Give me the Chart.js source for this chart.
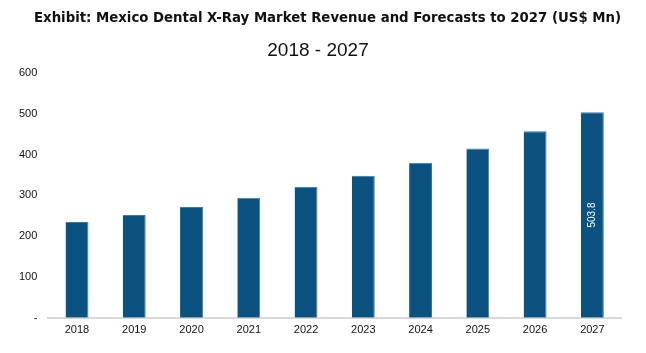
<!DOCTYPE html>
<html>
<head>
<meta charset="utf-8">
<script src="https://cdn.jsdelivr.net/npm/chart.js@4/dist/chart.umd.min.js"></script>
<style>
html,body{margin:0;padding:0;background:#fff;}
#wrap{width:646px;height:353px;position:relative;}
</style>
</head>
<body>
<div id="wrap"><canvas id="c" width="646" height="353"></canvas></div>
<script>
const categories = ["2018","2019","2020","2021","2022","2023","2024","2025","2026","2027"];
const revenue = [234.5, 252, 271.5, 294, 321, 348, 380, 415, 457, 503.8];
const yTicks = [0, 100, 200, 300, 400, 500, 600];
const labelledIndex = 9;
const titleText = 'Exhibit: Mexico Dental X-Ray Market Revenue and Forecasts to 2027 (US$ Mn)';
const subtitleText = '2018 - 2027';

const valueLabel = {
  id: 'valueLabel',
  afterDatasetsDraw(chart) {
    const meta = chart.getDatasetMeta(0);
    const el = meta.data[labelledIndex];
    if (!el) return;
    const ctx = chart.ctx;
    ctx.save();
    ctx.translate(el.x, (el.y + el.base) / 2);
    ctx.rotate(-Math.PI / 2);
    ctx.fillStyle = '#ffffff';
    ctx.font = '10px "Liberation Sans", Arial, sans-serif';
    ctx.textAlign = 'center';
    ctx.textBaseline = 'middle';
    ctx.fillText(String(revenue[labelledIndex]), 0, 0);
    ctx.restore();
  }
};

const headings = {
  id: 'headings',
  afterDraw(chart) {
    const ctx = chart.ctx;
    ctx.save();
    ctx.fillStyle = '#111';
    ctx.textAlign = 'center';
    ctx.textBaseline = 'middle';
    ctx.font = 'bold 13.3px "DejaVu Sans", Verdana, sans-serif';
    ctx.fillText(titleText, 327.5, 19);
    ctx.font = '19px "Liberation Sans", Arial, sans-serif';
    ctx.fillText(subtitleText, 318, 51);
    ctx.restore();
  }
};

new Chart(document.getElementById('c'), {
  type: 'bar',
  data: {
    labels: categories,
    datasets: [{
      data: revenue,
      backgroundColor: '#0B5281',
      borderColor: '#3C79A3',
      borderWidth: {top: 1, right: 1, left: 0, bottom: 0},
      barPercentage: 0.4,
      categoryPercentage: 1.0
    }]
  },
  options: {
    responsive: false,
    animation: false,
    devicePixelRatio: 1,
    layout: {padding: {left: 8, right: 25, top: 73, bottom: 10}},
    plugins: {
      legend: {display: false},
      tooltip: {enabled: false},
      title: {display: false},
      subtitle: {display: false}
    },
    scales: {
      x: {
        grid: {display: false, drawTicks: false},
        border: {display: true, color: '#d9d9d9', width: 2},
        ticks: {
          color: '#111',
          padding: 6,
          font: {family: '"Liberation Sans", Arial, sans-serif', size: 11}
        }
      },
      y: {
        min: 0, max: 600,
        afterBuildTicks(axis) { axis.ticks = yTicks.map(v => ({value: v})); },
        grid: {display: false, drawTicks: false},
        border: {display: false},
        ticks: {
          color: '#111',
          padding: 11,
          font: {family: '"Liberation Sans", Arial, sans-serif', size: 11},
          callback: v => v === 0 ? '-' : String(v)
        }
      }
    }
  },
  plugins: [valueLabel, headings]
});
</script>
</body>
</html>
